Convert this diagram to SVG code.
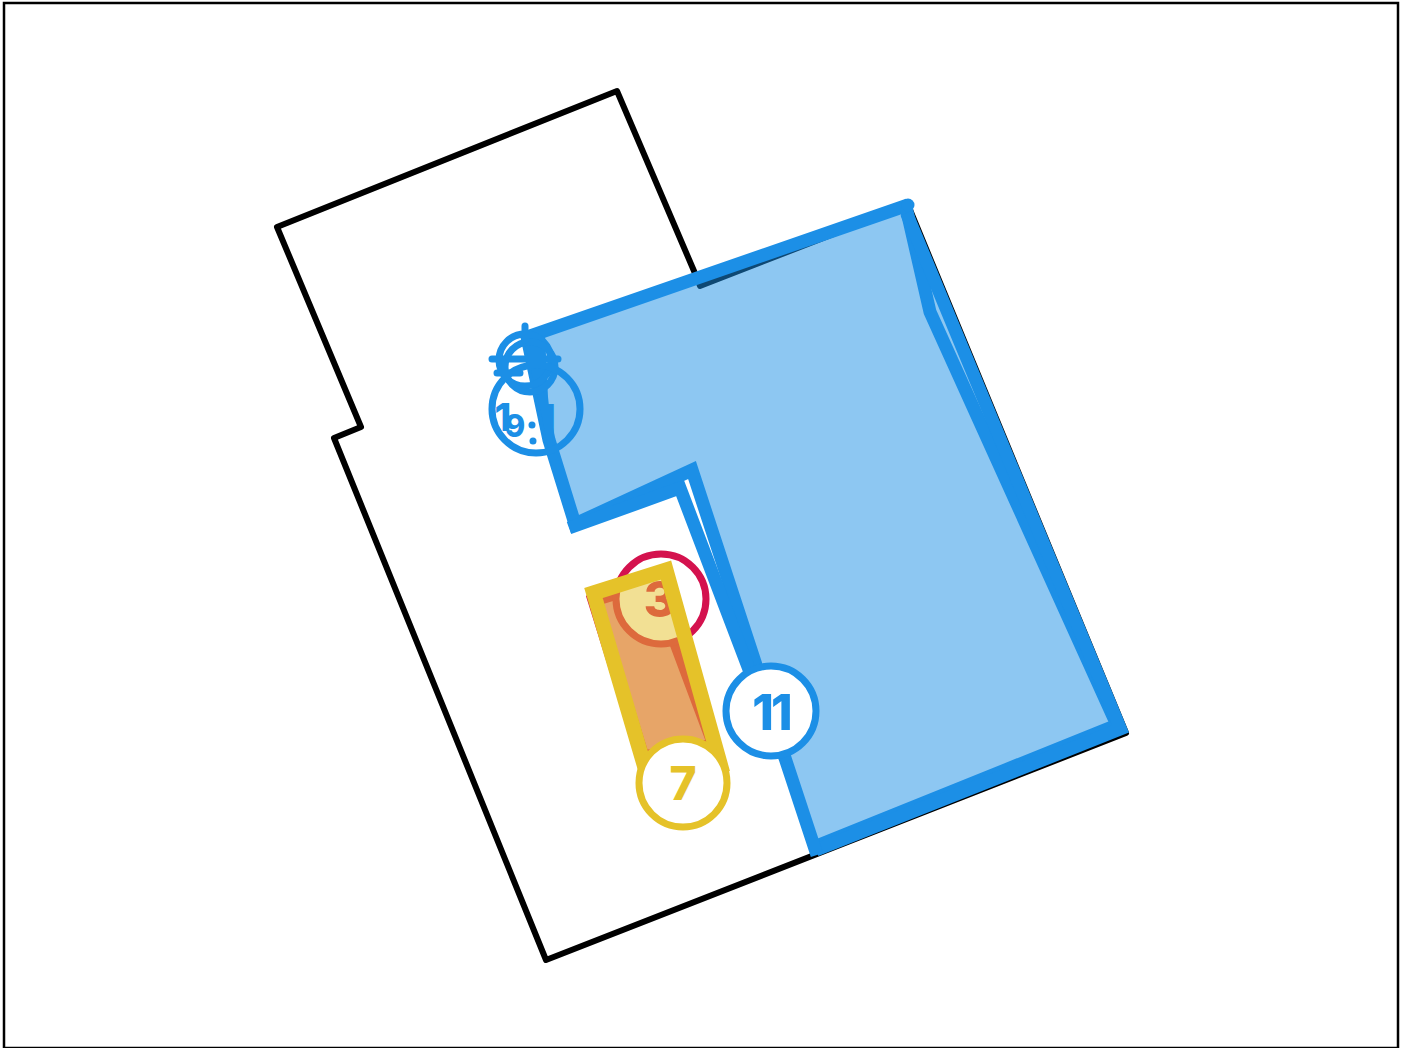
<svg xmlns="http://www.w3.org/2000/svg" width="1405" height="1048" viewBox="0 0 1405 1048">
<style>
.num{font-family:Inter,"Open Sans","Liberation Sans",sans-serif;font-weight:800;text-anchor:middle}
.b{fill:none;stroke:#1c8fe6;stroke-width:13;stroke-linejoin:miter;stroke-miterlimit:8;stroke-linecap:butt}
.t{fill:none;stroke:#1c8fe6;stroke-width:7;stroke-linecap:round}
</style>
<rect x="4" y="3" width="1394" height="1045" fill="#fff" stroke="#000" stroke-width="2.5"/>
<g id="outline"><path d="M617 91L697 278L700 286L908 205L1126 733L546 960L334 438L361 427L277 227Z" fill="#fff" stroke="#000" stroke-width="6" stroke-linejoin="round"/></g>
<g id="zone-11">
<path d="M908 205L1124 733L817 848L757 668L692 470L575 524L552 450L527 335Z" fill="#1c8fe6" fill-opacity=".5"/>
<path class="b" d="M908 205L527 337L549 440L575 524L692 470L757 668"/>
<path class="b" d="M906 207L930 312L1117 725L819 845"/>
<path class="b" d="M906.500 213L1120.500 729L816 850"/>
<path class="b" d="M569 528L680 488L750 672L785 758L817 855"/>
<circle cx="908" cy="205" r="6.500" fill="#1c8fe6"/>
<path d="M524 340L545 335L548 397L553 443L562 470L552 470L542 417Z" fill="#1c8fe6"/>
</g>
<g id="marker-top">
<circle class="t" cx="525" cy="360" r="26" stroke-width="8"/>
<circle class="t" cx="530" cy="367" r="25" stroke-width="8"/>
<circle class="t" cx="536" cy="409" r="44"/>
<path class="t" d="M525 326V340M492 359H558M497 373H520"/>
<text class="num" x="503" y="431" font-size="38" fill="#1c8fe6">1</text>
<text class="num" x="515" y="437" font-size="31" fill="#1c8fe6">9</text>
<text class="num" x="547" y="433" font-size="40" fill="#1c8fe6">1</text>
<circle cx="532" cy="425" r="3.500" fill="#1c8fe6"/>
<circle cx="533" cy="441" r="3.500" fill="#1c8fe6"/>
</g>
<g id="zone-3">
<path d="M594 600L653 582L714 745L643 757Z" fill="#d4124e" fill-opacity=".5" stroke="#d4124e" stroke-width="13"/>
<circle cx="661" cy="599" r="45" fill="#fff" stroke="#d4124e" stroke-width="7"/>
<text class="num" x="660" y="617" font-size="50" fill="#d4124e">3</text>
</g>
<g id="zone-7">
<path d="M593.500 593L666 570L720.500 765L648 778Z" fill="#e5c229" fill-opacity=".5" stroke="#e5c229" stroke-width="15"/>
<circle cx="683" cy="783" r="44" fill="#fff" stroke="#e5c229" stroke-width="7"/>
<text class="num" x="683" y="800" font-size="46" fill="#e5c229">7</text>
</g>
<g id="marker-11">
<circle cx="771" cy="711" r="45" fill="#fff" stroke="#1c8fe6" stroke-width="7"/>
<text class="num" x="771" y="730" font-size="49" letter-spacing="-3" fill="#1c8fe6">11</text>
</g>
</svg>
